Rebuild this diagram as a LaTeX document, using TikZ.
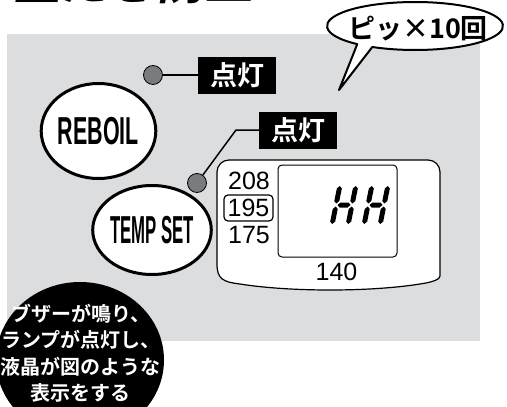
\documentclass[tikz,border=0pt]{standalone}
\usepackage{fontspec}
\setmainfont{Liberation Sans}
\newfontfamily\jp{Noto Sans CJK JP}[BoldFont={Noto Sans CJK JP Bold}]
\newfontfamily\jptitle{Noto Sans CJK JP Bold}[FakeSlant=0.2]
\usetikzlibrary{shapes.geometric}
\definecolor{panelgray}{RGB}{220,221,223}
\definecolor{lampgray}{RGB}{122,123,125}
\newcommand{\vseg}[3]{\fill (#1,#2) -- (#1+2.5,#2+2.5) -- (#1+2.5,#3-2.5) -- (#1,#3) -- (#1-2.5,#3-2.5) -- (#1-2.5,#2+2.5) -- cycle;}
\newcommand{\hseg}[3]{\fill (#1,#3) -- (#1+2.5,#3-2.5) -- (#2-2.5,#3-2.5) -- (#2,#3) -- (#2-2.5,#3+2.5) -- (#1+2.5,#3+2.5) -- cycle;}
\newcommand{\segH}[1]{\vseg{#1}{-19}{-1.5}\vseg{#1}{1.5}{19}\vseg{#1+16}{-19}{-1.5}\vseg{#1+16}{1.5}{19}\hseg{#1+1.5}{#1+14.5}{0}}

\begin{document}
\begin{tikzpicture}[
                x=1pt, y=-1pt,
                btn/.style={
                    ellipse,
                    draw,
                    line width=3pt,
                    fill=white,
                    inner sep=0pt,
                    font=\bfseries\fontsize{39pt}{39pt}\selectfont
                },
                lamp/.style={
                    circle,
                    draw,
                    fill=lampgray,
                    line width=0.8pt,
                    minimum size=19pt,
                    inner sep=0pt
                },
                litlabel/.style={
                    rectangle,
                    fill=black,
                    text=white,
                    minimum width=78pt,
                    minimum height=37pt,
                    inner sep=0pt,
                    font=\jp\bfseries\fontsize{27pt}{27pt}\selectfont
                },
                leader/.style={line width=1.5pt},
                digits/.style={
                    anchor=base,
                    inner sep=0pt,
                    font=\fontsize{25pt}{25pt}\selectfont
                },
                bubble/.style={draw, fill=white, line width=2pt, line join=round}
            ]
                \useasboundingbox (0,0) rectangle (507,407);
                \clip (0,0) rectangle (507,407);
                \node[font=\jptitle\fontsize{48pt}{48pt}\selectfont, anchor=base west, inner sep=0pt] (title) at (13,-1) {空だき防止};
                \fill[panelgray] (7,34) rectangle (480,341);

                \coordinate (bc) at (415,26);
                \coordinate (tip) at (339,90);
                \draw[bubble] ([shift={(119:88 and 24)}]bc) -- (tip) -- ([shift={(131:88 and 24)}]bc)
                    arc[start angle=131, end angle=479, x radius=88, y radius=24] -- cycle;
                \node[font=\jp\bfseries\fontsize{27pt}{27pt}\selectfont, inner sep=0pt] (beep) at (418,29) {ピッ×10回};

                \node[btn, minimum width=108pt, minimum height=95pt] (reboil) at (98.5,131) {\scalebox{0.55}[1]{REBOIL}};
                \node[btn, minimum width=98pt, minimum height=89pt] (tempset) at (152,230) {\scalebox{0.43}[1]{TEMP SET}};

                \node[lamp] (lamp1) at (153,75) {};
                \node[litlabel] (lit1) at (237,75) {点灯};
                \draw[leader] (lamp1) -- (lit1);
                \node[lamp] (lamp2) at (197,183) {};
                \node[litlabel] (lit2) at (298,130) {点灯};
                \coordinate (bend) at (236,130);
                \draw[leader] (lamp2) -- (bend) -- (lit2.west);

                \draw[line width=1.2pt, fill=white] (217,264) [rounded corners=12pt] -- (217,160) -- (440,160) -- (440,264) [sharp corners]
                    .. controls (440,279) and (434,282) .. (420,284)
                    .. controls (370,292) and (290,292) .. (240,284)
                    .. controls (223,282) and (217,279) .. (217,264) -- cycle;
                \draw[line width=1pt, rounded corners=4pt] (278,165) rectangle (397,257);
                \node[digits] (t208) at (249,189) {208};
                \node[draw, line width=1.2pt, rounded corners=4pt, minimum width=49pt, minimum height=26pt, inner sep=0pt,
                    font=\fontsize{25pt}{25pt}\selectfont] (t195) at (248.5,208) {195};
                \node[digits] (t175) at (249,243) {175};
                \node[digits] (t140) at (336.5,280) {140};
                \begin{scope}[shift={(0,205)}, xslant=0.2]
                    \segH{336}
                    \segH{368}
                \end{scope}

                \node[ellipse, fill=black, minimum width=168pt, minimum height=156pt, inner sep=0pt] (note) at (80,360) {};
                \node[text=white, align=center, inner sep=0pt, font=\jp\bfseries\fontsize{20pt}{26.5pt}\selectfont] (notetext) at (81,353)
                    {ブザーが鳴り、\\ランプが点灯し、\\液晶が図のような\\表示をする};
            \end{tikzpicture}
\end{document}
